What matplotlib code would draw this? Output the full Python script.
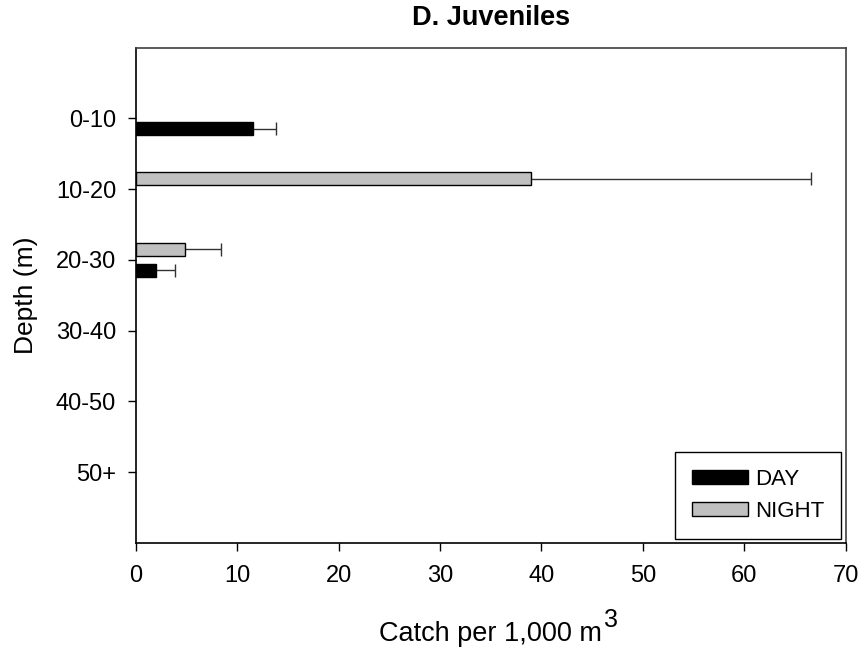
import numpy as np
import matplotlib
matplotlib.use('Agg')
import matplotlib.pyplot as plt
from matplotlib.patches import Patch

plt.rcParams['font.family'] = ['Liberation Sans', 'DejaVu Sans']

depths = ['0-10', '10-20', '20-30', '30-40', '40-50', '50+']
day_mean = [11.6, 0, 2.0, 0, 0, 0]
day_err = [2.2, 0, 1.9, 0, 0, 0]
night_mean = [0, 39.0, 4.9, 0, 0, 0]
night_err = [0, 27.6, 3.5, 0, 0, 0]

fig = plt.figure(figsize=(8.62, 6.49), dpi=100)
ax = fig.add_axes([0.1574, 0.1633, 0.8237, 0.7635])

pos = np.arange(1, len(depths) + 1)
h = 0.185
off = 0.148
cap = 0.095

def draw(vals, errs, shift, color):
    # bars with one-sided (upper) error bars
    for p, v, e in zip(pos, vals, errs):
        if v <= 0:
            continue
        y = p + shift
        ax.barh(y, v, height=h, color=color, edgecolor='black', linewidth=1.0, zorder=3)
        ax.hlines(y, v, v + e, color='#333333', linewidth=1.0, zorder=2)
        ax.vlines(v + e, y - cap, y + cap, color='#333333', linewidth=1.0, zorder=2)

draw(day_mean, day_err, off, 'black')
draw(night_mean, night_err, -off, '#c0c0c0')

ax.set_xlim(0, 70)
ax.set_ylim(7, 0)
ax.set_xticks(np.arange(0, 71, 10))
ax.set_yticks(pos)
ax.set_yticklabels(depths)
ax.tick_params(direction='out', length=6, width=1, labelsize=17)
ax.tick_params(axis='x', pad=10)
ax.tick_params(axis='y', pad=8)
for s in ['left', 'bottom']:
    ax.spines[s].set_color('black')
for s in ['top', 'right']:
    ax.spines[s].set_color('#404040')
for s in ax.spines.values():
    s.set_linewidth(1.2)

ax.set_title('D. Juveniles', fontsize=19.5, fontweight='bold', pad=16)
ax.set_ylabel('Depth (m)', fontsize=19, labelpad=13)
ax.set_xlabel('Catch per 1,000 m', fontsize=19.5, labelpad=24)
ax.annotate('3', xy=(1, 0.55), xycoords=ax.xaxis.label, xytext=(1, 0),
            textcoords='offset points', ha='left', va='bottom', fontsize=18)

handles = [Patch(facecolor='black', edgecolor='black', label='DAY'),
           Patch(facecolor='#c0c0c0', edgecolor='black', label='NIGHT')]
leg = ax.legend(handles=handles, loc='lower right', fontsize=16, fancybox=False,
                edgecolor='black', framealpha=1, handlelength=2.5, handleheight=0.6,
                handletextpad=0.35, labelspacing=0.5,
                borderaxespad=0.2, borderpad=0.75)
leg.get_frame().set_linewidth(1.0)

plt.savefig('out.png', dpi=100)
